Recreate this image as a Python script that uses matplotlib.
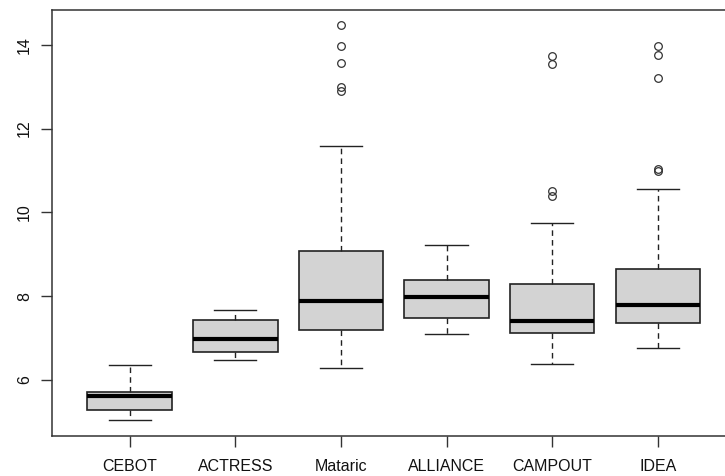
import matplotlib
matplotlib.use("Agg")
import matplotlib.pyplot as plt

plt.rcParams['font.family'] = ['Liberation Sans', 'DejaVu Sans']

# group names and five-number summaries
labels = ['CEBOT', 'ACTRESS', 'Mataric', 'ALLIANCE', 'CAMPOUT', 'IDEA']
whislo = [5.04, 6.49, 6.29, 7.11, 6.38, 6.77]
q1 = [5.28, 6.66, 7.19, 7.49, 7.13, 7.35]
med = [5.62, 6.97, 7.88, 7.97, 7.42, 7.80]
q3 = [5.71, 7.44, 9.07, 8.38, 8.28, 8.66]
whishi = [6.37, 7.66, 11.58, 9.22, 9.74, 10.56]
outliers = [
    [],
    [],
    [14.46, 13.96, 13.57, 12.99, 12.90],
    [],
    [13.74, 13.54, 10.52, 10.39],
    [13.98, 13.76, 13.20, 11.03, 10.99],
]

stats = []
for i in range(len(labels)):
    stats.append(dict(label=labels[i], whislo=whislo[i], q1=q1[i], med=med[i],
                      q3=q3[i], whishi=whishi[i], fliers=outliers[i]))

fig = plt.figure(figsize=(7.25, 4.76), dpi=100)
W, H = 725, 476
left, right, top, bottom = 51.5, 736, 9.7, 436
ax = fig.add_axes([left / W, (H - bottom) / H, (right - left) / W, (bottom - top) / H])

ax.bxp(stats, positions=range(1, 7), widths=0.8, patch_artist=True,
       boxprops=dict(facecolor='#d3d3d3', edgecolor='#222222', linewidth=1.2),
       medianprops=dict(color='black', linewidth=3, solid_capstyle='butt'),
       whiskerprops=dict(color='#222222', linestyle=(0, (4, 3)), linewidth=1),
       capprops=dict(color='#222222', linewidth=1),
       capwidths=0.4,
       flierprops=dict(marker='o', markerfacecolor='none', markeredgecolor='#333333',
                       markersize=5.5, markeredgewidth=0.9))

ax.set_xlim(0.26, 6.74)
ax.set_ylim(4.665, 14.835)
ax.set_yticks([6, 8, 10, 12, 14])
ax.set_xticks(range(1, 7))
ax.set_xticklabels(labels)
ax.tick_params(axis='both', direction='out', length=8, width=1, color='#333333',
               labelsize=11.5, labelcolor='#111111')
ax.tick_params(axis='x', pad=8.5)
ax.tick_params(axis='y', pad=6)
for lab in ax.get_yticklabels():
    lab.set_rotation(90)
    lab.set_va('center')
for s in ax.spines.values():
    s.set_linewidth(1.1)
    s.set_color('#333333')

fig.savefig('out.png', dpi=100)
